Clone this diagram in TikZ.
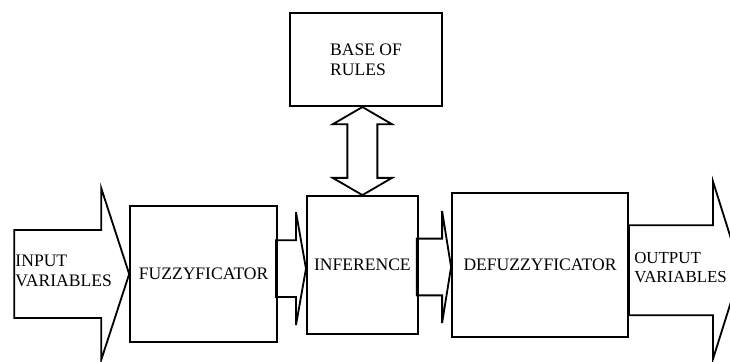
\documentclass[tikz,border=0pt]{standalone}
\usepackage{fontspec}
\setmainfont{Liberation Serif}
\usetikzlibrary{positioning,calc}
\tikzset{
  txt/.style  = {font=\fontsize{12.5}{13.8}\selectfont, text=black},
  blk/.style  = {draw, line width=1.3pt, txt, align=center, inner sep=2pt},
  flow/.style = {draw, line width=1.3pt, line join=miter},
  lbl/.style  = {txt, align=left, inner sep=0pt},
}
\begin{document}
\begin{tikzpicture}
  \useasboundingbox (0,0) rectangle (18.25,-9.025);
  \clip (0,0) rectangle (18.25,-9.025);
  % blocks
  \node[blk, minimum width=3.675cm, minimum height=3.4cm] (fuzz) at (5.09,-6.85) {FUZZYFICATOR};
  \node[blk, minimum width=2.775cm, minimum height=3.45cm] (inf) at (9.06,-6.625) {INFERENCE};
  \node[blk, minimum width=4.4cm, minimum height=3.6cm] (defuzz) at (13.5,-6.625) {DEFUZZYFICATOR};
  \node[blk, minimum width=3.8cm, minimum height=2.325cm, align=left] (rules) at (9.15,-1.49) {BASE OF\\RULES};
  % input arrow
  \draw[flow] (fuzz.west) -- ++(-0.7,2.15) -- ++(0,-1.05) -- ++(-2.175,0) -- ++(0,-2.2)
    -- ++(2.175,0) -- ++(0,-1.05) -- cycle;
  \node[lbl, anchor=west] (inlbl) at (0.38,-6.775) {INPUT\\VARIABLES};
  % small arrows between blocks
  \draw[flow] ($(inf.west)+(0,-0.09)$) -- ++(-0.25,1.41) -- ++(0,-0.7) -- ++(-0.5,0) -- ++(0,-1.42)
    -- ++(0.5,0) -- ++(0,-0.7) -- cycle;
  \draw[flow] ($(defuzz.west)+(0,-0.05)$) -- ++(-0.225,1.4) -- ++(0,-0.69) -- ++(-0.63,0) -- ++(0,-1.42)
    -- ++(0.63,0) -- ++(0,-0.69) -- cycle;
  % rules <-> inference
  \draw[flow] (rules.south -| inf.north) -- ++(0.74,-0.43) -- ++(-0.365,0) -- ($(inf.north)+(0.375,0.43)$)
    -- ++(0.365,0) -- (inf.north) -- ++(-0.74,0.43) -- ++(0.365,0)
    -- ($(rules.south -| inf.north)+(-0.375,-0.43)$) -- ++(-0.365,0) -- cycle;
  % output arrow
  \draw[flow] ($(defuzz.east)+(0,-0.13)$) -- ++(0,1.125) -- ++(2.1,0) -- ++(0,1.1) -- ++(0.7,-2.225)
    -- ++(-0.7,-2.225) -- ++(0,1.1) -- ++(-2.1,0) -- cycle;
  \node[lbl, anchor=west, font=\fontsize{12}{13.5}\selectfont] (outlbl) at (15.85,-6.7) {OUTPUT\\VARIABLES};
\end{tikzpicture}
\end{document}
